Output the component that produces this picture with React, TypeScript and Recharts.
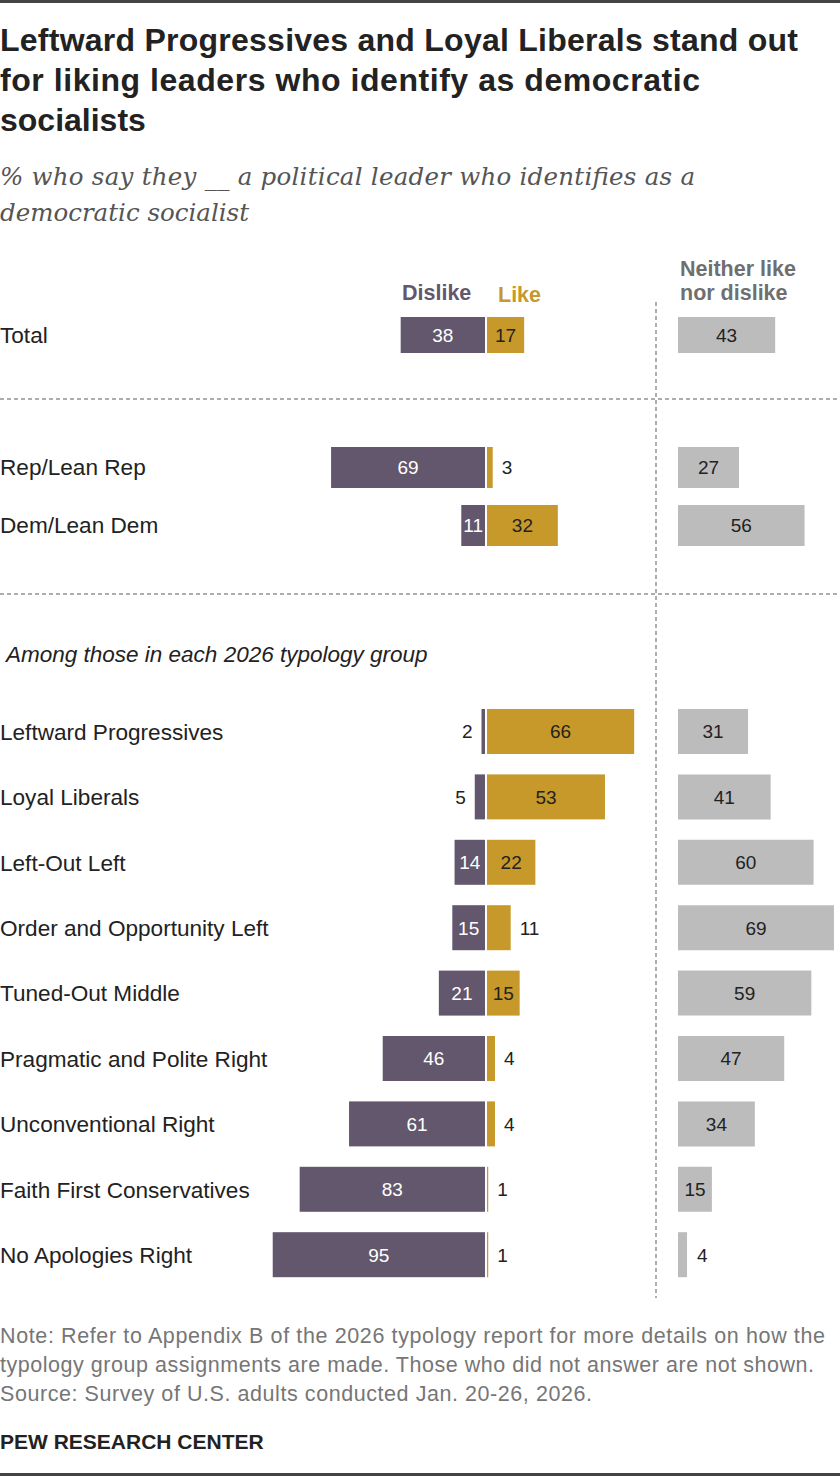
import { BarChart, Bar, XAxis, YAxis, LabelList } from "recharts";

// Democratic socialist leaders: dislike / like diverging bars, "neither" in its own column.

const totalGroups = ["Total"];
const totalDislike = [38];
const totalLike = [17];
const totalNeither = [43];

const partyGroups = ["Rep/Lean Rep", "Dem/Lean Dem"];
const partyDislike = [69, 11];
const partyLike = [3, 32];
const partyNeither = [27, 56];

const typologyGroups = [
  "Leftward Progressives",
  "Loyal Liberals",
  "Left-Out Left",
  "Order and Opportunity Left",
  "Tuned-Out Middle",
  "Pragmatic and Polite Right",
  "Unconventional Right",
  "Faith First Conservatives",
  "No Apologies Right",
];
const typologyDislike = [2, 5, 14, 15, 21, 46, 61, 83, 95];
const typologyLike = [66, 53, 22, 11, 15, 4, 4, 1, 1];
const typologyNeither = [31, 41, 60, 69, 59, 47, 34, 15, 4];

const DISLIKE = "#63576d";
const LIKE = "#c7992a";
const NEITHER = "#bcbcbc";
const INK = "#222222";
const SANS = '"Liberation Sans", Arial, sans-serif';
const SERIF = '"DejaVu Serif", Georgia, serif';
const VALUE_SIZE = 19;

// label column is 270px wide; plot runs 270..660 with zero at 486 (~2.245 px per point)
const LABEL_W = 270;
const DIVERGE_DOMAIN: [number, number] = [-96.21, 77.51];
// x = 18 (678 on the page) at zero, ~2.26 px per point across 180px
const NEITHER_DOMAIN: [number, number] = [-7.965, 71.68];

type Row = { name: string; dislike: number; like: number; neither: number; d: number; l: number };

function norm(p: any) {
  const w = Number(p.width) || 0;
  const x = Number(p.x) || 0;
  return { left: w < 0 ? x + w : x, w: Math.abs(w), y: Number(p.y) || 0, h: Number(p.height) || 0 };
}

// leave a 2px white seam at zero between dislike and like
function dislikeShape(p: any) {
  const { left, w, y, h } = norm(p);
  return <rect x={left} y={y} width={Math.max(w - 1, 0.8)} height={h} fill={DISLIKE} />;
}
function likeShape(p: any) {
  const { left, w, y, h } = norm(p);
  return <rect x={left + 1} y={y} width={Math.max(w - 1, 0.8)} height={h} fill={LIKE} />;
}

function valueText(x: number, y: number, v: any, anchor: "start" | "middle" | "end", fill: string) {
  return (
    <text x={x} y={y} dy="0.36em" textAnchor={anchor} fill={fill} fontSize={VALUE_SIZE} fontFamily={SANS}>
      {v}
    </text>
  );
}

function dislikeLabel(p: any) {
  const { left, w, y, h } = norm(p);
  const v = Number(p.value);
  if (v >= 10) return valueText(left + (w - 1) / 2, y + h / 2, v, "middle", "#ffffff");
  return valueText(left - 9, y + h / 2, v, "end", INK);
}
function likeLabel(p: any) {
  const { left, w, y, h } = norm(p);
  const v = Number(p.value);
  if (v >= 14) return valueText(left + 1 + (w - 1) / 2, y + h / 2, v, "middle", INK);
  return valueText(left + w + 9, y + h / 2, v, "start", INK);
}
function neitherLabel(p: any) {
  const { left, w, y, h } = norm(p);
  const v = Number(p.value);
  if (v >= 10) return valueText(left + w / 2, y + h / 2, v, "middle", INK);
  return valueText(left + w + 10, y + h / 2, v, "start", INK);
}

function CategoryTick(props: any) {
  const { y, payload } = props;
  return (
    <text x={0} y={y} dy="0.36em" textAnchor="start" fill={INK} fontSize={22.6} fontFamily={SANS}>
      {payload.value}
    </text>
  );
}

function Section({
  names, dislike, like, neither, top, rowH, barH,
}: {
  names: string[]; dislike: number[]; like: number[]; neither: number[];
  top: number; rowH: number; barH: number;
}) {
  const rows: Row[] = names.map((name, i) => ({
    name, dislike: -dislike[i], like: like[i], neither: neither[i], d: dislike[i], l: like[i],
  }));
  const h = rowH * names.length;
  return (
    <>
      <div style={{ position: "absolute", left: 0, top, width: 660, height: h }}>
        <BarChart
          width={660} height={h} data={rows} layout="vertical" stackOffset="sign"
          margin={{ top: 0, right: 0, bottom: 0, left: 0 }} barSize={barH}
        >
          <XAxis type="number" hide domain={DIVERGE_DOMAIN} allowDataOverflow />
          <YAxis
            type="category" dataKey="name" width={LABEL_W} interval={0}
            axisLine={false} tickLine={false} tick={<CategoryTick />}
          />
          <Bar dataKey="dislike" stackId="a" fill={DISLIKE} shape={dislikeShape} isAnimationActive={false}>
            <LabelList dataKey="d" content={dislikeLabel} />
          </Bar>
          <Bar dataKey="like" stackId="a" fill={LIKE} shape={likeShape} isAnimationActive={false}>
            <LabelList dataKey="l" content={likeLabel} />
          </Bar>
        </BarChart>
      </div>
      <div style={{ position: "absolute", left: 660, top, width: 180, height: h }}>
        <BarChart
          width={180} height={h} data={rows} layout="vertical"
          margin={{ top: 0, right: 0, bottom: 0, left: 0 }} barSize={barH}
        >
          <XAxis type="number" hide domain={NEITHER_DOMAIN} allowDataOverflow />
          <YAxis type="category" dataKey="name" hide />
          <Bar dataKey="neither" fill={NEITHER} isAnimationActive={false}>
            <LabelList dataKey="neither" content={neitherLabel} />
          </Bar>
        </BarChart>
      </div>
    </>
  );
}

export default function App() {
  const dots = { stroke: "#adadad", strokeWidth: 2, strokeDasharray: "4 3" };
  return (
    <div style={{ position: "absolute", left: 0, top: 0, width: 840, height: 1476, background: "#fff", overflow: "hidden" }}>
      <svg width={840} height={1476} style={{ position: "absolute", left: 0, top: 0 }}>
        <rect x={0} y={0} width={840} height={3} fill="#444" />
        <rect x={0} y={1473} width={840} height={3} fill="#444" />

        <g fontFamily={SANS} fontWeight="bold" fontSize={32} fill={INK}>
          <text x={0} y={51} textLength={798} lengthAdjust="spacing">Leftward Progressives and Loyal Liberals stand out</text>
          <text x={0} y={91} textLength={700} lengthAdjust="spacing">for liking leaders who identify as democratic</text>
          <text x={0} y={131}>socialists</text>
        </g>
        <g fontFamily={SERIF} fontStyle="italic" fontSize={24.5} fill="#555">
          <text x={0} y={185} textLength={695} lengthAdjust="spacing">% who say they __ a political leader who identifies as a</text>
          <text x={0} y={221}>democratic socialist</text>
        </g>

        <g fontFamily={SANS} fontWeight="bold" fontSize={21.5}>
          <text x={402} y={300} fill={DISLIKE}>Dislike</text>
          <text x={498} y={302} fill={LIKE}>Like</text>
          <text x={680} y={276} fill="#6f6f6f">Neither like</text>
          <text x={680} y={300} fill="#6f6f6f">nor dislike</text>
        </g>

        <line x1={0} x2={840} y1={399} y2={399} {...dots} />
        <line x1={0} x2={840} y1={594} y2={594} {...dots} />
        <line x1={656} x2={656} y1={302} y2={1298} {...dots} />

        <text x={6} y={662} fontFamily={SANS} fontStyle="italic" fontSize={22.5} fill={INK}>
          Among those in each 2026 typology group
        </text>

        <g fontFamily={SANS} fontSize={21.5} fill="#767676">
          <text x={0} y={1343} textLength={825} lengthAdjust="spacing">Note: Refer to Appendix B of the 2026 typology report for more details on how the</text>
          <text x={0} y={1372} textLength={814} lengthAdjust="spacing">typology group assignments are made. Those who did not answer are not shown.</text>
          <text x={0} y={1401} textLength={592} lengthAdjust="spacing">Source: Survey of U.S. adults conducted Jan. 20-26, 2026.</text>
        </g>
        <text x={0} y={1449} fontFamily={SANS} fontWeight="bold" fontSize={21} fill={INK}>PEW RESEARCH CENTER</text>
      </svg>

      <Section names={totalGroups} dislike={totalDislike} like={totalLike} neither={totalNeither} top={305} rowH={60} barH={36} />
      <Section names={partyGroups} dislike={partyDislike} like={partyLike} neither={partyNeither} top={438} rowH={58} barH={41} />
      <Section names={typologyGroups} dislike={typologyDislike} like={typologyLike} neither={typologyNeither} top={699.3} rowH={65.4} barH={45} />
    </div>
  );
}
